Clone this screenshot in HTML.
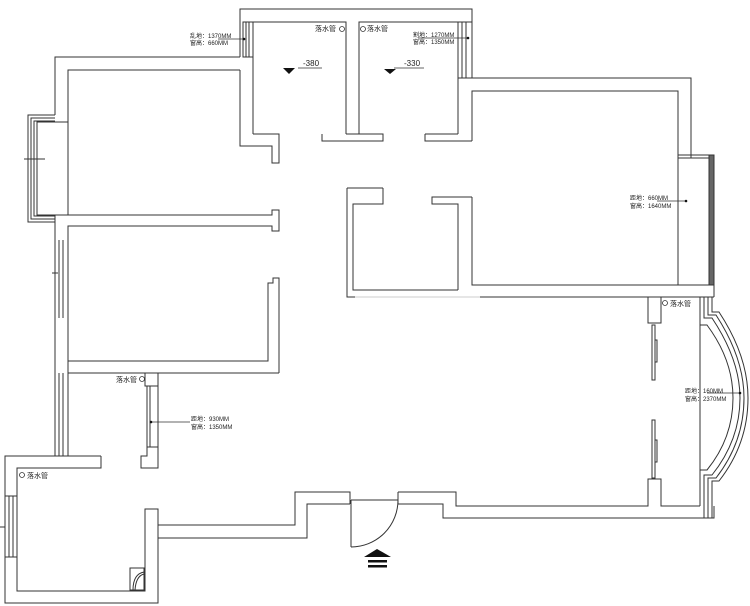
<!DOCTYPE html>
<html><head><meta charset="utf-8"><style>
html,body{margin:0;padding:0;background:#fff}
svg{display:block}
text{font-family:"Liberation Sans","Noto Sans CJK SC",sans-serif;fill:#222}
.s{font-size:6px}
.m{font-size:8px}
.p{font-size:7px}
</style></head><body>
<svg width="750" height="606" viewBox="0 0 750 606" xmlns="http://www.w3.org/2000/svg">
<g fill="none" stroke="#333" stroke-width="1">
<polyline points="240,57 240,9 472,9 472,78"/>
<polyline points="253,22 253,134"/>
<rect x="243" y="22" width="10" height="35"/>
<line x1="246" y1="22" x2="246" y2="57"/><line x1="249" y1="22" x2="249" y2="57"/>
<polyline points="253,22 346,22 346,134"/>
<polyline points="359,134 359,22 458,22 458,134"/>
<rect x="458" y="22" width="14" height="56"/>
<line x1="462" y1="22" x2="462" y2="78"/><line x1="466" y1="22" x2="466" y2="78"/>
<polyline points="240,70 240,146 272,146 272,163 279,163 279,134 253,134"/>
<polyline points="322,134 322,141 383,141 383,134 346,134"/>
<polyline points="359,134 383,134"/>
<polyline points="425,134 425,141 472,141"/>
<polyline points="425,134 458,134"/>
<polyline points="240,57 55,57 55,115"/>
<polyline points="68,215 68,70 240,70"/>
<polyline points="55,115 28,115 28,222 55,222"/>
<polyline points="55,118 31,118 31,219 55,219"/>
<polyline points="55,121 34,121 34,216 55,216"/>
<polyline points="55,122 37,122 37,215 55,215"/>
<line x1="55" y1="122" x2="68" y2="122"/>
<line x1="24" y1="159" x2="45" y2="159"/>
<polyline points="55,215 272,215 272,210 279,210 279,231 272,231 272,226 68,226 68,361 268,361 268,283 273,283 273,278 279,278 279,373"/>
<line x1="55" y1="215" x2="55" y2="226"/>
<line x1="55" y1="226" x2="55" y2="456"/>
<line x1="68" y1="226" x2="68" y2="240"/>
<line x1="59" y1="240" x2="59" y2="318"/><line x1="63" y1="240" x2="63" y2="318"/><line x1="68" y1="240" x2="68" y2="318"/>
<line x1="52" y1="273" x2="58" y2="273"/>
<polyline points="68,318 68,373 157,373"/>
<line x1="157" y1="373" x2="279" y2="373"/>
<line x1="59" y1="373" x2="59" y2="456"/><line x1="63" y1="373" x2="63" y2="456"/><line x1="68" y1="373" x2="68" y2="456"/>
<polyline points="145,373 145,386 158,386 158,373"/>
<rect x="147" y="386" width="11" height="61"/>
<line x1="150" y1="386" x2="150" y2="447"/>
<polyline points="147,447 147,456 141,456 141,468 158,468 158,447"/>
<polyline points="101,456 5,456 5,603 158,603 158,525 295,525 295,492 350,492 350,504"/>
<polyline points="101,456 101,468 17,468 17,591 145,591 145,509 158,509 158,538 307,538 307,504 350,504"/>
<rect x="5" y="496" width="12" height="61"/>
<line x1="9" y1="496" x2="9" y2="557"/><line x1="13" y1="496" x2="13" y2="557"/>
<line x1="0" y1="527" x2="5" y2="527"/>
<rect x="130" y="568" width="14" height="22"/>
<path d="M133 590 Q133 574 144 572 M135 590 Q136 576 144 574"/>
<line x1="351" y1="500" x2="351" y2="547"/>
<line x1="351" y1="500" x2="398" y2="500"/>
<path d="M351 547 A47 47 0 0 0 398 500"/>
<polyline points="398,492 398,504 443,504 443,518 714,518 714,506"/>
<polyline points="398,492 456,492 456,506 648,506 648,479 661,479 661,506 700,506"/>
<polyline points="648,297 648,323 661,323 661,297"/>
<rect x="652" y="325" width="3" height="55"/><rect x="655" y="340" width="2" height="22"/>
<rect x="652" y="420" width="3" height="58"/><rect x="655" y="440" width="2" height="22"/>
<line x1="648" y1="297" x2="714" y2="297"/>
<polyline points="700,297 700,506"/>
<path d="M704 297 L704 318 L712 318 Q740 360 740 398 Q740 440 712 475 L704 475 L704 518"/>
<path d="M708 297 L708 315 L716 315 Q744 358 744 398 Q744 442 716 478 L708 478 L708 518"/>
<path d="M712 297 L712 312 L719 312 Q748 356 748 398 Q748 444 719 481 L712 481 L712 518"/>
<path d="M700 325 L707 325 Q733 360 733 398 Q733 438 707 470 L700 470"/>
<polyline points="472,78 691,78 691,158"/>
<polyline points="458,134 458,78 472,78"/>
<polyline points="472,141 472,91 678,91 678,285 472,285 472,197"/>
<rect x="678" y="155" width="36" height="130"/>
<rect x="709" y="155" width="5" height="130" fill="#666"/>
<line x1="678" y1="158" x2="709" y2="158"/>
<polyline points="472,197 432,197 432,204 458,204 458,290"/>
<polyline points="347,188 347,297 355,297"/>
<polyline points="383,188 347,188"/>
<polyline points="383,188 383,204 353,204 353,290 458,290"/>
<line x1="480" y1="297" x2="648" y2="297"/>
<line x1="714" y1="285" x2="714" y2="297"/>
</g>
<g stroke="#ccc" stroke-width="1"><line x1="355" y1="297" x2="480" y2="297"/></g>
<g fill="none" stroke="#333" stroke-width="0.8">
<circle cx="342" cy="29" r="2.5"/><circle cx="363" cy="29" r="2.5"/>
<circle cx="665" cy="303" r="2.5"/><circle cx="142" cy="379" r="2.5"/><circle cx="22" cy="475" r="2.5"/>
</g>
<g stroke="#333" stroke-width="0.8">
<line x1="218" y1="39" x2="244" y2="39"/><line x1="418" y1="38" x2="468" y2="38"/>
<line x1="657" y1="201" x2="686" y2="201"/><line x1="707" y1="393" x2="740" y2="393"/>
<line x1="151" y1="422" x2="190" y2="422"/>
<line x1="298" y1="68" x2="322" y2="68"/><line x1="394" y1="68" x2="424" y2="68"/>
</g>
<g fill="#111">
<circle cx="244" cy="39" r="1.3"/><circle cx="468" cy="38" r="1.3"/><circle cx="686" cy="201" r="1.3"/><circle cx="740" cy="393" r="1.3"/><circle cx="151" cy="422" r="1.3"/>
<polygon points="283,68 295,68 289,74"/><polygon points="384,69 396,69 390,74"/>
<polygon points="377,549 391,557 364,557"/>
<rect x="368" y="560" width="19" height="2.5"/><rect x="368" y="565" width="19" height="2.5"/>
</g>
<text class="s" x="190" y="38">乱地：1370MM</text><text class="s" x="190" y="45">窗高：660MM</text>
<text class="p" x="315" y="31">落水管</text><text class="p" x="367" y="31">落水管</text>
<text class="m" x="303" y="66">-380</text><text class="m" x="404" y="66">-330</text>
<text class="s" x="413" y="37">割地：1270MM</text><text class="s" x="413" y="44">窗高：1350MM</text>
<text class="s" x="630" y="200">距地：660MM</text><text class="s" x="630" y="208">窗高：1640MM</text>
<text class="p" x="670" y="306">落水管</text>
<text class="s" x="685" y="393">距地：160MM</text><text class="s" x="685" y="401">窗高：2370MM</text>
<text class="p" x="116" y="382">落水管</text>
<text class="s" x="191" y="421">距地：930MM</text><text class="s" x="191" y="429">窗高：1350MM</text>
<text class="p" x="27" y="478">落水管</text>
</svg>
</body></html>
